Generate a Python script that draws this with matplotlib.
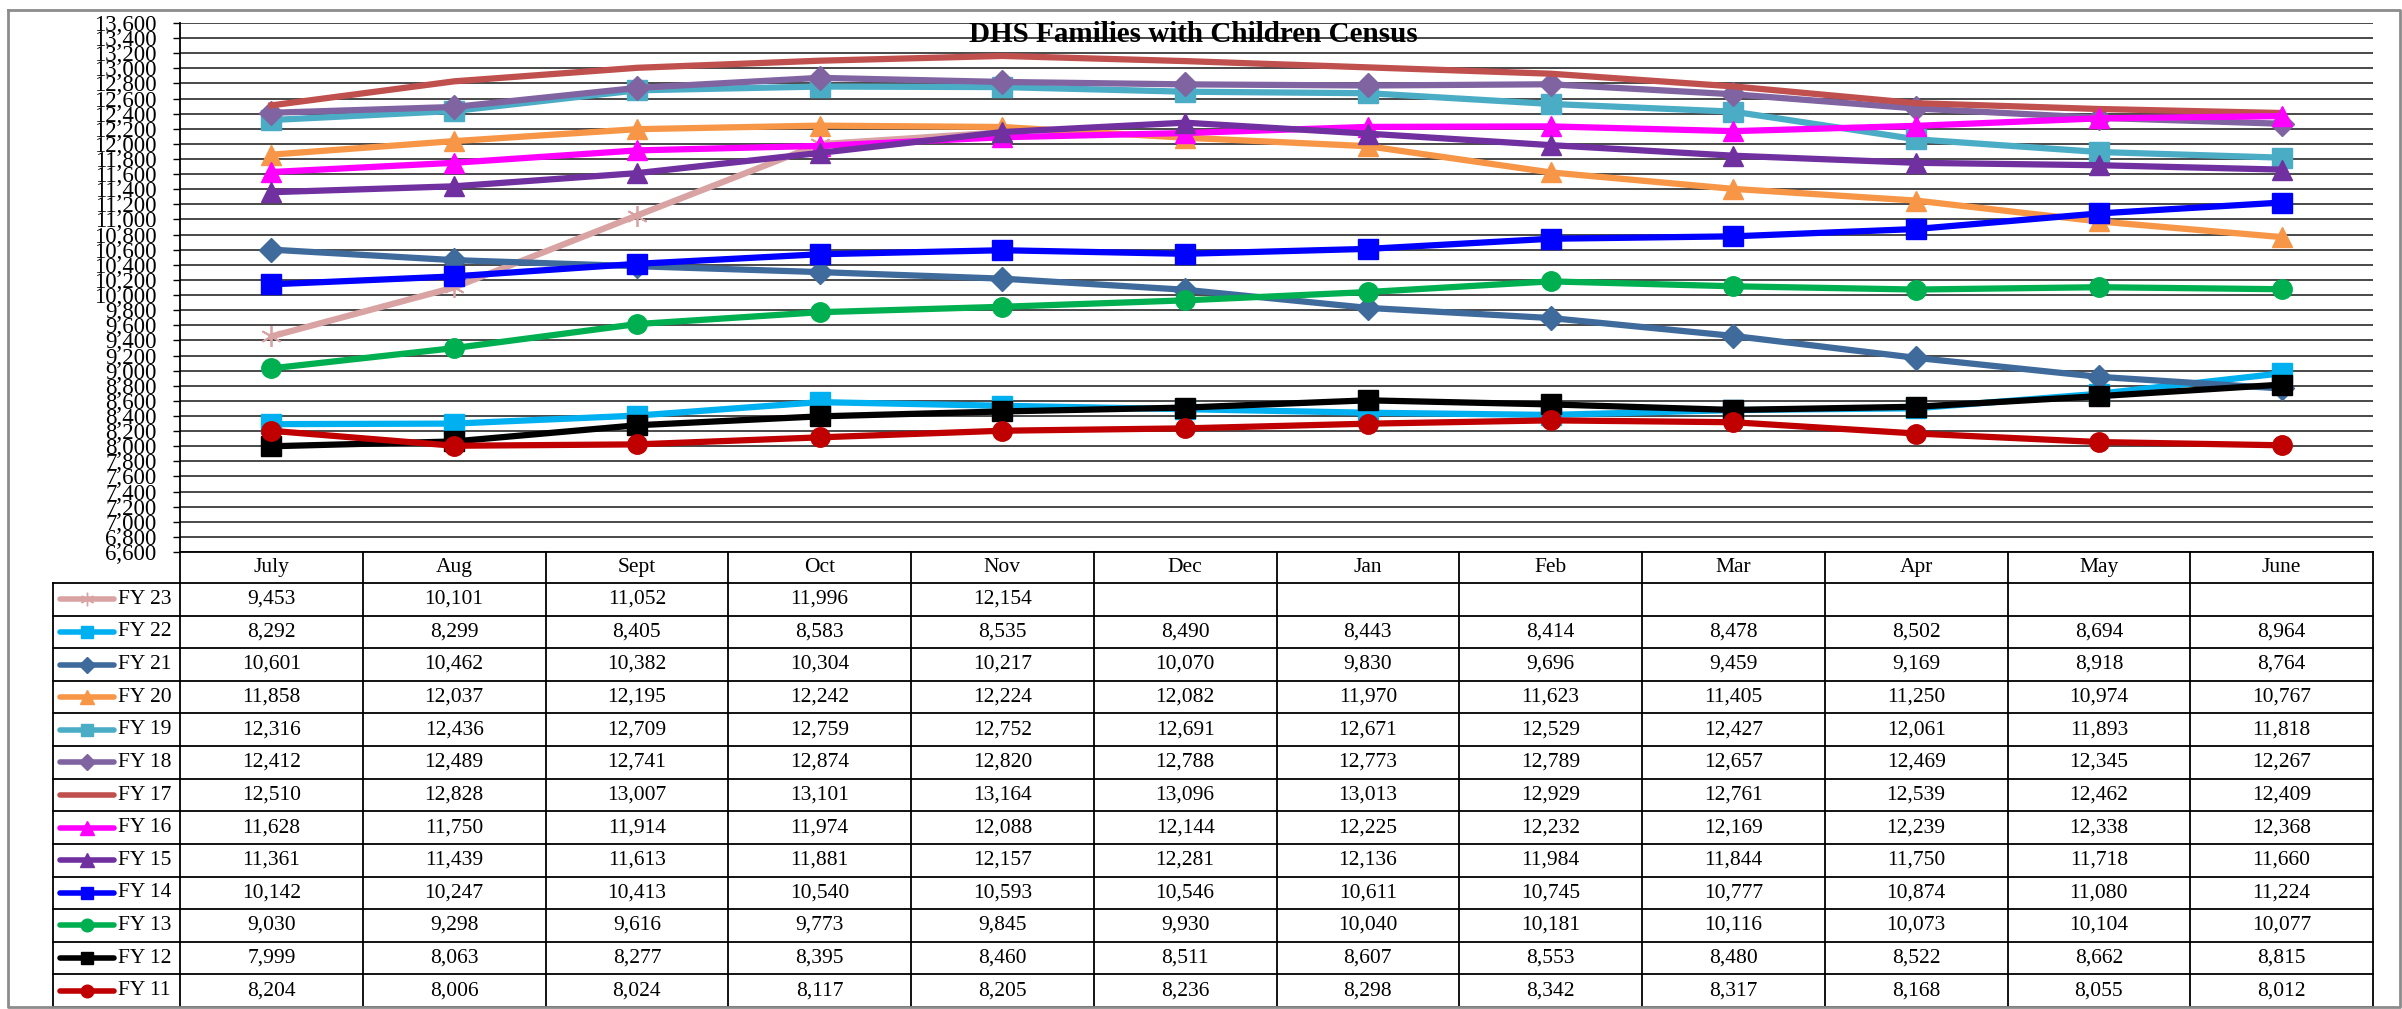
"""DHS Families with Children Census - line chart with Excel-style data table"""
import numpy as np
import matplotlib.pyplot as plt

plt.rcParams['font.family'] = ['Liberation Serif', 'DejaVu Serif']

months = ['July', 'Aug', 'Sept', 'Oct', 'Nov', 'Dec', 'Jan', 'Feb', 'Mar', 'Apr', 'May', 'June']
series_names = ['FY 23', 'FY 22', 'FY 21', 'FY 20', 'FY 19', 'FY 18', 'FY 17',
                'FY 16', 'FY 15', 'FY 14', 'FY 13', 'FY 12', 'FY 11']

nan = np.nan
fy23 = [9453, 10101, 11052, 11996, 12154, nan, nan, nan, nan, nan, nan, nan]
fy22 = [8292, 8299, 8405, 8583, 8535, 8490, 8443, 8414, 8478, 8502, 8694, 8964]
fy21 = [10601, 10462, 10382, 10304, 10217, 10070, 9830, 9696, 9459, 9169, 8918, 8764]
fy20 = [11858, 12037, 12195, 12242, 12224, 12082, 11970, 11623, 11405, 11250, 10974, 10767]
fy19 = [12316, 12436, 12709, 12759, 12752, 12691, 12671, 12529, 12427, 12061, 11893, 11818]
fy18 = [12412, 12489, 12741, 12874, 12820, 12788, 12773, 12789, 12657, 12469, 12345, 12267]
fy17 = [12510, 12828, 13007, 13101, 13164, 13096, 13013, 12929, 12761, 12539, 12462, 12409]
fy16 = [11628, 11750, 11914, 11974, 12088, 12144, 12225, 12232, 12169, 12239, 12338, 12368]
fy15 = [11361, 11439, 11613, 11881, 12157, 12281, 12136, 11984, 11844, 11750, 11718, 11660]
fy14 = [10142, 10247, 10413, 10540, 10593, 10546, 10611, 10745, 10777, 10874, 11080, 11224]
fy13 = [9030, 9298, 9616, 9773, 9845, 9930, 10040, 10181, 10116, 10073, 10104, 10077]
fy12 = [7999, 8063, 8277, 8395, 8460, 8511, 8607, 8553, 8480, 8522, 8662, 8815]
fy11 = [8204, 8006, 8024, 8117, 8205, 8236, 8298, 8342, 8317, 8168, 8055, 8012]

all_series = [fy23, fy22, fy21, fy20, fy19, fy18, fy17, fy16, fy15, fy14, fy13, fy12, fy11]

# style per series: (color, marker, marker size)
styles = [
    ('#D9A3A3', (6, 2, 0), 15),
    ('#00B0F0', 's', 14),
    ('#3E6A9C', 'D', 12),
    ('#F79646', '^', 15),
    ('#4BACC6', 's', 14),
    ('#8064A2', 'D', 12),
    ('#C0504D', None, 0),
    ('#FF00FF', '^', 15),
    ('#7030A0', '^', 15),
    ('#0000FF', 's', 14),
    ('#00B050', 'o', 14),
    ('#000000', 's', 14),
    ('#C00000', 'o', 14),
]

W, H = 2402, 1009
fig = plt.figure(figsize=(W / 100, H / 100), dpi=100)

# pixel layout
x_left, x_right = 180, 2373
y_top, y_axis = 23, 552
y_hdr = 583
y_bottom = 1007
leg_left = 53

ax = fig.add_axes([x_left / W, 1 - y_axis / H, (x_right - x_left) / W, (y_axis - y_top) / H])
x = np.arange(len(months))
for i, (vals, (col, mk, ms)) in enumerate(zip(all_series, styles)):
    ax.plot(x, vals, color=col, lw=4.5, marker=mk, markersize=ms,
            markerfacecolor=col, markeredgecolor=col,
            markeredgewidth=1.3 if i == 0 else 1, zorder=3 + i)

ax.set_xlim(-0.5, len(months) - 0.5)
ax.set_ylim(6600, 13600)
yt = np.arange(6600, 13601, 200)
ax.set_yticks(yt)
ax.set_yticklabels([f'{v:,}' for v in yt], fontsize=16.5)
ax.tick_params(axis='y', direction='out', length=5, width=1, pad=12)
ax.set_xticks([])
ax.grid(axis='y', color='#3a3a3a', lw=1.3)
ax.set_axisbelow(True)
for s in ['top', 'right', 'bottom']:
    ax.spines[s].set_visible(False)
ax.spines['left'].set_linewidth(1.3)
ax.text(0.462, 0.9647, 'DHS Families with Children Census', transform=ax.transAxes,
        ha='center', va='baseline', fontsize=21, fontweight='bold', zorder=20)

# data table
tb = fig.add_axes([0, 0, 1, 1])
tb.set_xlim(0, W)
tb.set_ylim(H, 0)
tb.axis('off')

ncol = len(months)
cw = (x_right - x_left) / ncol
nrow = len(series_names)
rh = (y_bottom - y_hdr) / nrow

lc = '#000000'
# horizontal lines
tb.plot([x_left, x_right], [y_axis, y_axis], color=lc, lw=1.3)
for r in range(nrow + 1):
    yy = y_hdr + r * rh
    tb.plot([leg_left, x_right], [yy, yy], color=lc, lw=1.3)
# vertical lines
for c in range(ncol + 1):
    xx = x_left + c * cw
    tb.plot([xx, xx], [y_axis, y_bottom], color=lc, lw=1.3)
tb.plot([leg_left, leg_left], [y_hdr, y_bottom], color=lc, lw=1.3)

for c, m in enumerate(months):
    tb.text(x_left + (c + 0.5) * cw, (y_axis + y_hdr) / 2, m,
            ha='center', va='center', fontsize=15.5)

for r, (name, vals, (col, mk, ms)) in enumerate(zip(series_names, all_series, styles)):
    yc = y_hdr + (r + 0.5) * rh
    tb.plot([60, 114], [yc, yc], color=col, lw=4, solid_capstyle='round')
    if mk is not None:
        tb.plot([87], [yc], marker=mk, color=col, markersize=ms * 0.65,
                markeredgewidth=1)
    tb.text(118, yc, name, ha='left', va='center', fontsize=15.5)
    for c, v in enumerate(vals):
        if not np.isnan(v):
            tb.text(x_left + (c + 0.5) * cw, yc, f'{int(v):,}',
                    ha='center', va='center', fontsize=15.5)

# outer chart border
tb.plot([8, 2400, 2400, 8, 8], [10, 10, 1007, 1007, 10], color='#8c8c8c', lw=2)

fig.savefig('out.png', dpi=100)
